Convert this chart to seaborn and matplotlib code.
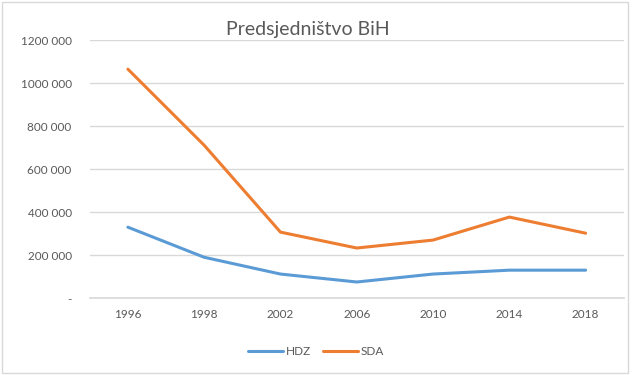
import matplotlib
matplotlib.use("Agg")
import matplotlib.pyplot as plt
import seaborn as sns
import pandas as pd
from matplotlib.patches import Rectangle
from matplotlib.ticker import FuncFormatter
from matplotlib.lines import Line2D

years = ["1996", "1998", "2002", "2006", "2010", "2014", "2018"]
hdz = [330000, 190000, 112000, 75000, 112000, 130000, 130000]
sda = [1065000, 711000, 307000, 233000, 270000, 377000, 302000]
series_names = ["HDZ", "SDA"]
colors = {"HDZ": "#5B9BD5", "SDA": "#ED7D31"}

df = pd.DataFrame({
    "year": years * 2,
    "votes": hdz + sda,
    "party": ["HDZ"] * len(years) + ["SDA"] * len(years),
})

sns.set_theme(style="white")
plt.rcParams["font.family"] = ["Lato", "DejaVu Sans"]

fig = plt.figure(figsize=(6.32, 3.75), dpi=100)
ax = fig.add_axes([0.142, 0.205, 0.845, 0.688])

sns.lineplot(data=df, x="year", y="votes", hue="party", hue_order=series_names,
             palette=colors, linewidth=2.2, sort=False, ax=ax, legend=False)

ax.set_xlim(-0.5, len(years) - 0.5)
ax.set_ylim(0, 1200000)
ax.set_yticks(range(0, 1200001, 200000))

def fmt(v, pos):
    v = int(round(v))
    if v == 0:
        return "-"
    return f"{v // 1000} {v % 1000:03d}"

ax.yaxis.set_major_formatter(FuncFormatter(fmt))
ax.grid(axis="y", color="#D9D9D9", linewidth=1)
ax.set_axisbelow(True)
for s in ["top", "right", "left"]:
    ax.spines[s].set_visible(False)
ax.spines["bottom"].set_color("#D9D9D9")
ax.tick_params(axis="both", length=0, labelsize=8.5, colors="#595959")
ax.tick_params(axis="y", pad=13)
ax.tick_params(axis="x", pad=8)
ax.set_xlabel("")
ax.set_ylabel("")

fig.text(0.487, 0.92, "Predsjedništvo BiH", ha="center", va="center",
         fontsize=14, color="#595959")

handles = [Line2D([0], [0], color=colors[n], lw=2.2) for n in series_names]
fig.legend(handles, series_names, loc="center", bbox_to_anchor=(0.5, 0.063),
           ncol=2, frameon=False, fontsize=8.5, labelcolor="#595959",
           handlelength=3.0, handletextpad=0.2, columnspacing=1.0)

fig.patches.append(Rectangle((0.003, 0.005), 0.99, 0.99, transform=fig.transFigure,
                             fill=False, edgecolor="#D9D9D9", linewidth=1))

fig.savefig("out.png", dpi=100)
